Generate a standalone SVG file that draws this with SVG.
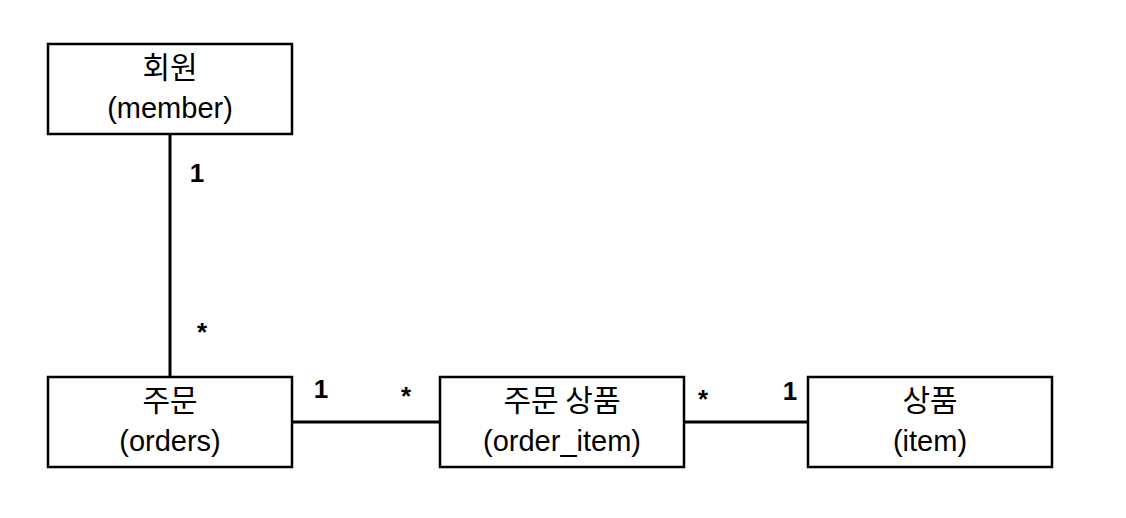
<svg xmlns="http://www.w3.org/2000/svg" width="1126" height="518" viewBox="0 0 1126 518">
  <style>
    .box { fill: #ffffff; stroke: #000000; stroke-width: 2.5; }
    .conn { stroke: #000000; stroke-width: 3; fill: none; }
    .ko { font-family: "Noto Sans CJK KR", sans-serif; font-size: 30px; fill: #000; text-anchor: middle; }
    .en { font-family: "Liberation Sans", "Noto Sans CJK KR", sans-serif; font-size: 29px; fill: #000; text-anchor: middle; }
    .lbl { font-family: "Liberation Sans", sans-serif; font-size: 26px; font-weight: bold; fill: #000; text-anchor: middle; }
  </style>
  <rect width="1126" height="518" fill="#ffffff"/>
  <g id="connectors">
    <line class="conn" x1="170" y1="134" x2="170" y2="377"/>
    <line class="conn" x1="292" y1="422" x2="440" y2="422"/>
    <line class="conn" x1="684" y1="422" x2="808" y2="422"/>
    <text class="lbl" x="197" y="182">1</text>
    <text class="lbl" x="202" y="341">*</text>
    <text class="lbl" x="321" y="398">1</text>
    <text class="lbl" x="406" y="405">*</text>
    <text class="lbl" x="703" y="408">*</text>
    <text class="lbl" x="790" y="400">1</text>
  </g>
  <g id="member">
    <rect class="box" x="48" y="44" width="244" height="90"/>
    <text class="ko" x="170" y="78">회원</text>
    <text class="en" x="170" y="118">(member)</text>
  </g>
  <g id="orders">
    <rect class="box" x="48" y="377" width="244" height="90"/>
    <text class="ko" x="170" y="411">주문</text>
    <text class="en" x="170" y="451">(orders)</text>
  </g>
  <g id="order_item">
    <rect class="box" x="440" y="377" width="244" height="90"/>
    <text class="ko" x="562" y="411">주문 상품</text>
    <text class="en" x="562" y="451">(order_item)</text>
  </g>
  <g id="item">
    <rect class="box" x="808" y="377" width="244" height="90"/>
    <text class="ko" x="930" y="411">상품</text>
    <text class="en" x="930" y="451">(item)</text>
  </g>
</svg>
